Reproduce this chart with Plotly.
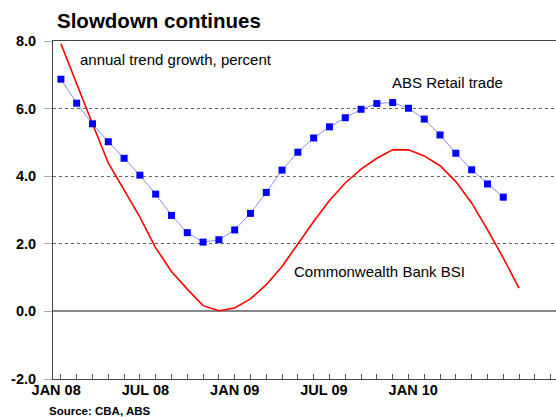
import plotly.graph_objects as go

# monthly index, Jan 2008 = 0
retail_trade = [6.87, 6.16, 5.55, 5.02, 4.53, 4.03, 3.47, 2.84, 2.33, 2.05,
                2.12, 2.41, 2.90, 3.52, 4.18, 4.71, 5.13, 5.46, 5.73, 5.98,
                6.15, 6.18, 6.01, 5.69, 5.22, 4.68, 4.19, 3.77, 3.38]
cba_bsi = [7.92, 6.72, 5.55, 4.39, 3.58, 2.79, 1.88, 1.18, 0.66, 0.17,
           0.02, 0.10, 0.37, 0.79, 1.33, 1.99, 2.66, 3.28, 3.80, 4.21,
           4.53, 4.78, 4.78, 4.60, 4.31, 3.84, 3.21, 2.42, 1.58, 0.69]
x_labels = ["JAN 08", "JUL 08", "JAN 09", "JUL 09", "JAN 10"]
y_ticks = [-2, 0, 2, 4, 6, 8]
n_months = 32

FONT = "Liberation Sans, Arial, sans-serif"

fig = go.Figure()
fig.add_trace(go.Scatter(
    x=list(range(len(cba_bsi))), y=cba_bsi, mode="lines",
    line=dict(color="#FF0000", width=1.6), hoverinfo="skip"))
fig.add_trace(go.Scatter(
    x=list(range(len(retail_trade))), y=retail_trade, mode="lines+markers",
    line=dict(color="#8C8CFF", width=1),
    marker=dict(symbol="square", size=7, color="#0000FF"), hoverinfo="skip"))

label_pos = [i * 5.65 - 0.3 for i in range(len(x_labels))]

fig.update_layout(
    width=556, height=417,
    margin=dict(l=53, r=0, t=41, b=38, autoexpand=False),
    paper_bgcolor="white", plot_bgcolor="white",
    showlegend=False,
    font=dict(family=FONT, color="black"),
    title=dict(text="Slowdown continues", x=57/556, xref="container", xanchor="left",
               y=1 - 21/417, yref="container", yanchor="middle",
               font=dict(family=FONT, size=20.5, weight="bold", color="black")),
    xaxis=dict(range=[-0.5, 31.34], tickmode="array", tickvals=label_pos, ticktext=x_labels,
               ticks="", showgrid=False, zeroline=False, automargin=False,
               showline=True, linecolor="#444", linewidth=1, mirror=True,
               tickfont=dict(family=FONT, size=14.5, weight="bold", color="black"),
               ticklabelstandoff=-2,
               minor=dict(tickmode="array", tickvals=list(range(n_months)), ticks="inside",
                          ticklen=5, tickcolor="#555", tickwidth=1, showgrid=False)),
    yaxis=dict(range=[-2, 8], tickmode="array", tickvals=y_ticks,
               ticktext=[f"{v:.1f}" for v in y_ticks], automargin=False,
               ticks="outside", ticklen=8, tickcolor="#aaa",
               showgrid=True, gridcolor="#666", griddash="dot", gridwidth=1,
               zeroline=True, zerolinecolor="#888", zerolinewidth=2,
               showline=True, linecolor="#444", linewidth=1,
               tickfont=dict(family=FONT, size=14.5, weight="bold", color="black"),
               ticklabelstandoff=5),
)

ann_font = dict(family=FONT, size=15, color="black")
fig.add_annotation(x=1.08, y=7.45, text="annual trend growth, percent", showarrow=False,
                   xanchor="left", yanchor="middle", font=ann_font)
fig.add_annotation(x=20.82, y=6.78, text="ABS Retail trade", showarrow=False,
                   xanchor="left", yanchor="middle", font=ann_font)
fig.add_annotation(x=14.6, y=1.18, text="Commonwealth Bank BSI", showarrow=False,
                   xanchor="left", yanchor="middle", font=ann_font)
fig.add_annotation(x=(47 - 53) / 503, xref="paper", y=-(419 - 379) / 338, yref="paper",
                   text="Source: CBA, ABS", showarrow=False, xanchor="left", yanchor="bottom",
                   font=dict(family=FONT, size=11.5, weight="bold", color="black"))

fig.write_html("out.html", config={"displayModeBar": False},
               post_script="document.body.style.margin='0';document.body.style.overflow='hidden';")
